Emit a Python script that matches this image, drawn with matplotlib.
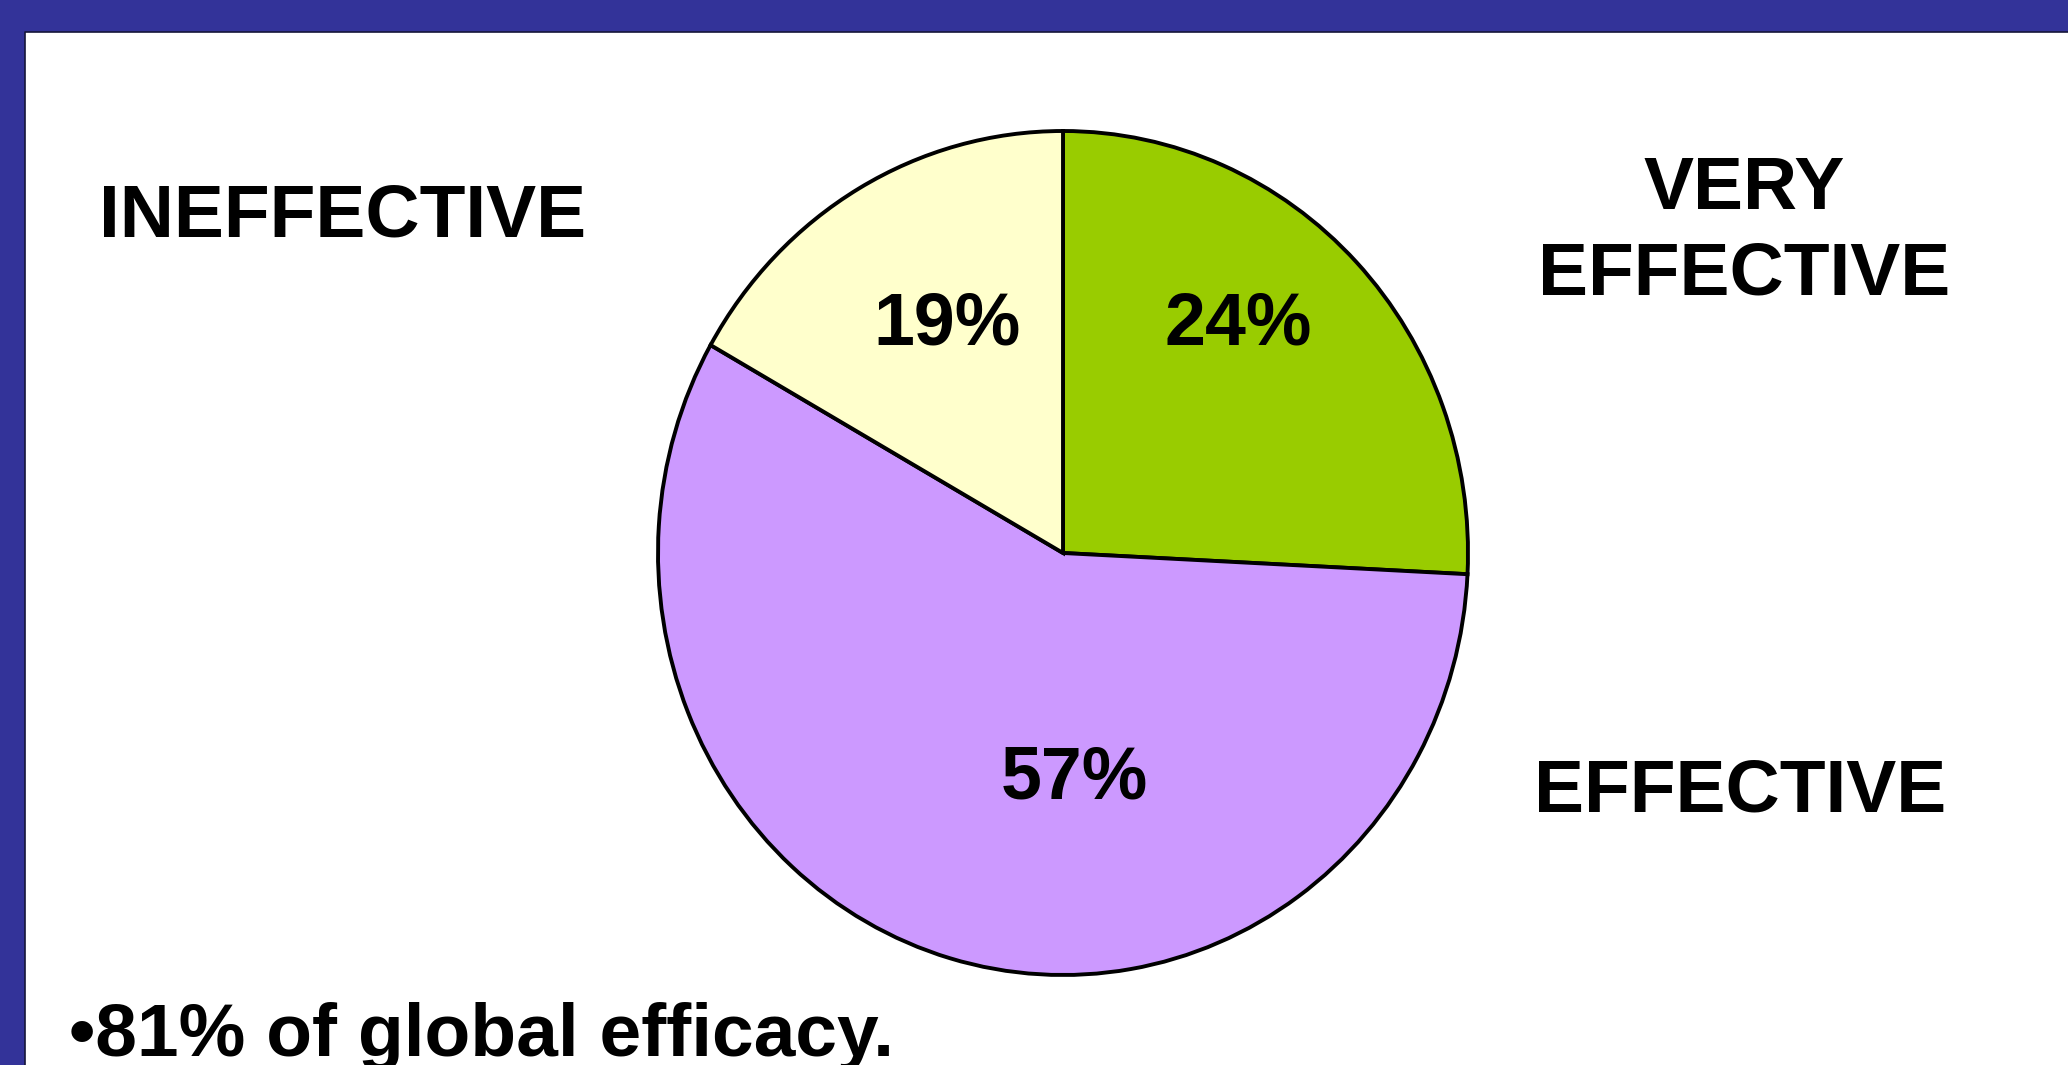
import matplotlib
matplotlib.use("Agg")
import matplotlib.pyplot as plt
from matplotlib.patches import Rectangle
from matplotlib.lines import Line2D

# slice shares as drawn (clockwise from 12 o'clock), and the printed labels
categories = ["VERY EFFECTIVE", "EFFECTIVE", "INEFFECTIVE"]
shares = [25.8, 57.4, 16.8]
pct_labels = ["24%", "57%", "19%"]
colors = ["#99CC00", "#CC99FF", "#FFFFCC"]
note = "\u202281% of global efficacy."

W, H = 2068, 1065
plt.rcParams["font.family"] = ["Liberation Sans", "DejaVu Sans"]

fig = plt.figure(figsize=(W / 100, H / 100), dpi=100)
fig.patch.set_facecolor("#333399")


def fx(px):
    return px / W


def fy(py):
    return 1 - py / H


# white slide area with thin dark edge on top and left
fig.patches.append(Rectangle((fx(25), 0), 1 - fx(25), fy(32), transform=fig.transFigure,
                             facecolor="white", edgecolor="none", zorder=-2))
fig.lines.append(Line2D([fx(25), fx(25), 1], [0, fy(32), fy(32)], transform=fig.transFigure,
                        color="#15153a", linewidth=1.2, zorder=-1))

# pie is slightly taller than wide in the reference
cx, cy, rx, ry = 1063, 553, 405, 422
ax = fig.add_axes([fx(cx - rx), fy(cy + ry), 2 * rx / W, 2 * ry / H])
ax.pie(shares, colors=colors, startangle=90, counterclock=False, radius=1,
       wedgeprops=dict(edgecolor="black", linewidth=2.8))
ax.set_aspect("auto")
ax.set_xlim(-1, 1)
ax.set_ylim(-1, 1)
ax.axis("off")
for p in ax.patches:
    p.set_clip_on(False)

pct_pos = [(0.432, 0.540), (0.027, -0.535), (-0.286, 0.540)]
for (x, y), lab in zip(pct_pos, pct_labels):
    ax.text(x, y, lab, ha="center", va="center", fontsize=53, fontweight="bold")

# category labels
fs = 54
fig.text(fx(343), fy(217), categories[2], ha="center", va="center", fontsize=fs, fontweight="bold")
fig.text(fx(1744), fy(232), "VERY\nEFFECTIVE", ha="center", va="center", fontsize=fs,
         fontweight="bold", linespacing=1.3)
fig.text(fx(1740), fy(792), categories[1], ha="center", va="center", fontsize=fs, fontweight="bold")

fig.text(fx(69), fy(1056), note, ha="left", va="baseline", fontsize=54, fontweight="bold")

fig.savefig("out.png", dpi=100, facecolor=fig.get_facecolor())
